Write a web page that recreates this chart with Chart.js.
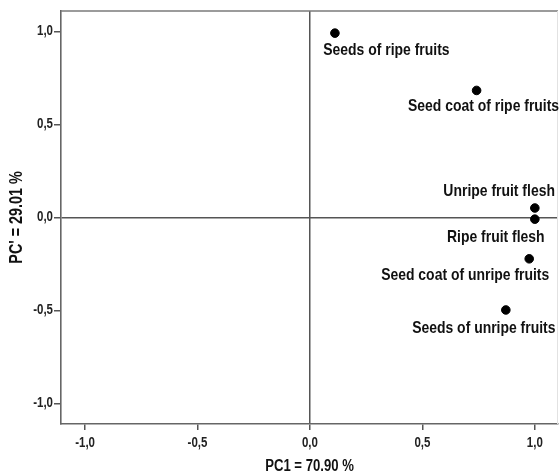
<!DOCTYPE html>
<html>
<head>
<meta charset="utf-8">
<script src="https://cdn.jsdelivr.net/npm/chart.js@4.4.0/dist/chart.umd.min.js"></script>
<style>
html,body{margin:0;padding:0;background:#fff;}
canvas{display:block;}
</style>
</head>
<body>
<canvas id="c" width="559" height="475"></canvas>
<script>
// ---- data ----
const sampleNames = [
  "Seeds of ripe fruits",
  "Seed coat of ripe fruits",
  "Unripe fruit flesh",
  "Ripe fruit flesh",
  "Seed coat of unripe fruits",
  "Seeds of unripe fruits"
];
const pc1Values = [0.111, 0.741, 1.000, 1.000, 0.975, 0.871];
const pc2Values = [0.991, 0.683, 0.051, -0.009, -0.222, -0.497];
const tickValues = [-1.0, -0.5, 0.0, 0.5, 1.0];
const xTitle = "PC1 = 70.90 %";
const yTitle = "PC' = 29.01 %";

// ---- styling / layout (not data) ----
const FONT = '"Liberation Sans", Arial, sans-serif';
const NARROW = 0.82; // horizontal squeeze of all text (narrow bold face look)
// label offsets in pixels (centre of text relative to the point)
const labelOffsets = [[51.5, 16], [7, 14.5], [-35.7, -17.3], [-39, 16.7], [-64, 16], [-22, 17.5]];

const points = pc1Values.map((x, i) => ({x: x, y: pc2Values[i]}));
const fmt = v => v.toFixed(1).replace('.', ',');

// condense every text drawn on the canvas horizontally
const narrowTextPlugin = {
  id: 'narrowText',
  beforeDraw(chart) {
    const ctx = chart.ctx;
    if (ctx.__origFillText) return;
    const orig = ctx.fillText.bind(ctx);
    ctx.__origFillText = orig;
    ctx.fillText = function (text, x, y, maxWidth) {
      ctx.save();
      ctx.translate(x, y);
      ctx.scale(NARROW, 1);
      orig(text, 0, 0);
      ctx.restore();
    };
  }
};

const labelPlugin = {
  id: 'pointLabels',
  afterDatasetsDraw(chart) {
    const ctx = chart.ctx;
    const meta = chart.getDatasetMeta(0);
    ctx.save();
    ctx.font = 'bold 17px ' + FONT;
    ctx.fillStyle = '#111';
    ctx.textAlign = 'center';
    ctx.textBaseline = 'middle';
    meta.data.forEach((el, i) => {
      const off = labelOffsets[i];
      ctx.fillText(sampleNames[i], el.x + off[0], el.y + off[1] + 1);
    });
    ctx.restore();
  }
};

const framePlugin = {
  id: 'frame',
  beforeDatasetsDraw(chart) {
    const {ctx, chartArea: a} = chart;
    ctx.save();
    ctx.strokeStyle = '#7a7a7a';
    ctx.lineWidth = 1.6;
    ctx.beginPath();
    ctx.moveTo(a.left, a.top);
    ctx.lineTo(a.right, a.top);
    ctx.stroke();
    ctx.strokeStyle = '#e2e2e2';
    ctx.lineWidth = 1;
    ctx.beginPath();
    ctx.moveTo(a.right - 0.5, a.top);
    ctx.lineTo(a.right - 0.5, a.bottom);
    ctx.stroke();
    ctx.restore();
  }
};

const zeroGrid = c => (c.tick && c.tick.value === 0) ? '#555' : 'rgba(0,0,0,0)';

new Chart(document.getElementById('c'), {
  type: 'scatter',
  data: {
    datasets: [{
      data: points,
      backgroundColor: '#000',
      borderColor: '#000',
      pointRadius: 4.3,
      pointHoverRadius: 4.3
    }]
  },
  plugins: [narrowTextPlugin, framePlugin, labelPlugin],
  options: {
    responsive: false,
    devicePixelRatio: 1,
    animation: false,
    layout: {autoPadding: false, padding: {top: 11, right: 1, left: 0, bottom: 0}},
    plugins: {legend: {display: false}, tooltip: {enabled: false}},
    scales: {
      x: {
        type: 'linear',
        min: -1.107,
        max: 1.103,
        afterBuildTicks: s => { s.ticks = tickValues.map(v => ({value: v})); },
        afterFit: s => { s.height = 51; s.paddingLeft = 0; s.paddingRight = 0; },
        ticks: {
          callback: v => fmt(v),
          font: {family: FONT, size: 14, weight: 'bold'},
          color: '#222',
          padding: 5,
          maxRotation: 0,
          autoSkip: false
        },
        grid: {color: zeroGrid, lineWidth: 1.5, tickColor: '#555', tickLength: 6, drawTicks: true},
        border: {display: true, color: '#666', width: 1.6},
        title: {display: true, text: xTitle, font: {family: FONT, size: 16, weight: 'bold'}, color: '#111', padding: {top: 0, bottom: -1}}
      },
      y: {
        type: 'linear',
        min: -1.11,
        max: 1.11,
        afterBuildTicks: s => { s.ticks = tickValues.map(v => ({value: v})); },
        afterFit: s => { s.width = 61; s.paddingTop = 0; s.paddingBottom = 0; },
        ticks: {
          callback: v => fmt(v),
          font: {family: FONT, size: 14, weight: 'bold'},
          color: '#222',
          padding: 1,
          autoSkip: false
        },
        grid: {color: zeroGrid, lineWidth: 1.5, tickColor: '#555', tickLength: 7, drawTicks: true},
        border: {display: true, color: '#666', width: 1.6},
        title: {display: true, text: yTitle, font: {family: FONT, size: 17.5, weight: 'bold'}, color: '#111', padding: {top: 7, bottom: 0}}
      }
    }
  }
});
</script>
</body>
</html>
